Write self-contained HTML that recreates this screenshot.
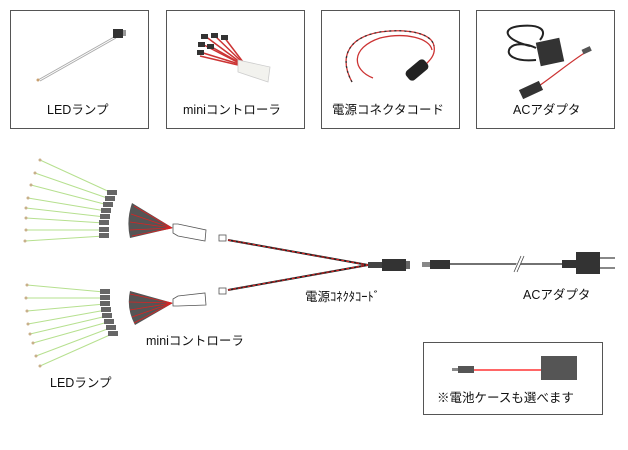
<!DOCTYPE html>
<html><head><meta charset="utf-8"><style>
body{margin:0;background:#fff;width:628px;height:450px;overflow:hidden}
svg{display:block}
text{font-family:"Liberation Sans","Noto Sans CJK JP",sans-serif;font-size:12.5px;fill:#111}
</style></head><body>
<svg width="628" height="450" viewBox="0 0 628 450">
<g fill="none" stroke="#555" stroke-width="1">
<rect x="10.5" y="10.5" width="138" height="118"/>
<rect x="166.5" y="10.5" width="138" height="118"/>
<rect x="321.5" y="10.5" width="138" height="118"/>
<rect x="476.5" y="10.5" width="138" height="118"/>
<rect x="423.5" y="342.5" width="179" height="72"/>
</g>
<text x="47" y="114">LEDランプ</text>
<text x="183" y="114">miniコントローラ</text>
<text x="332" y="114">電源コネクタコード</text>
<text x="513" y="114">ACアダプタ</text>
<!-- LED thumb -->
<g stroke="#aaa" stroke-width="1"><line x1="38" y1="80" x2="114" y2="37"/><line x1="40" y1="81" x2="116" y2="38"/></g>
<circle cx="38" cy="80" r="1.5" fill="#c8a070"/>
<rect x="113" y="29" width="10" height="9" fill="#333"/>
<rect x="123" y="30" width="3" height="6" fill="#999"/>
<!-- mini controller thumb -->
<g stroke="#c33" stroke-width="1.5">
<line x1="205" y1="36" x2="240" y2="62"/><line x1="214" y1="35" x2="242" y2="62"/><line x1="224" y1="37" x2="243" y2="62"/><line x1="202" y1="44" x2="239" y2="63"/><line x1="200" y1="52" x2="239" y2="64"/><line x1="210" y1="46" x2="240" y2="63"/><line x1="200" y1="56" x2="238" y2="65"/></g>
<g fill="#333"><rect x="201" y="34" width="7" height="5"/><rect x="211" y="33" width="7" height="5"/><rect x="221" y="35" width="7" height="5"/><rect x="198" y="42" width="7" height="5"/><rect x="197" y="50" width="7" height="5"/><rect x="207" y="44" width="7" height="5"/></g>
<path d="M238 60 L270 67 L268 82 L238 72 Z" fill="#f2f2ee" stroke="#ccc" stroke-width="0.8"/>
<!-- cord thumb -->
<g fill="none" stroke-width="1.3">
<path d="M352 82 C340 60 345 38 380 32 C410 28 432 34 434 46 C436 56 428 62 424 66" stroke="#c33"/>
<path d="M373 78 C352 70 350 48 380 38 C405 32 430 38 432 50" stroke="#c33"/>
<path d="M352 82 C340 60 345 38 380 32 C410 28 432 34 434 46" stroke="#333" stroke-dasharray="2 3"/>
</g>
<rect x="405" y="64" width="24" height="12" rx="4" fill="#222" transform="rotate(-40 417 70)"/>
<!-- AC thumb -->
<path d="M530 46 C505 40 500 28 520 26 C540 24 548 30 540 40 M536 60 C515 62 505 55 510 48 C515 42 528 44 536 48" stroke="#222" stroke-width="2" fill="none"/>
<rect x="538" y="40" width="24" height="24" fill="#333" transform="rotate(-12 550 52)"/>
<path d="M536 88 C555 75 570 62 586 52" stroke="#c33" stroke-width="1.2" fill="none"/>
<rect x="582" y="48" width="9" height="5" fill="#555" transform="rotate(-25 586 50)"/>
<rect x="520" y="85" width="22" height="10" fill="#333" transform="rotate(-25 531 90)"/>
<!-- LED wires -->
<g stroke="#b6e08f" stroke-width="1">
<line x1="40" y1="160" x2="112" y2="193"/><line x1="35" y1="173" x2="110" y2="199"/><line x1="31" y1="185" x2="108" y2="205"/><line x1="28" y1="198" x2="106" y2="211"/><line x1="26" y1="208" x2="105" y2="217"/><line x1="26" y1="218" x2="104" y2="223"/><line x1="26" y1="230" x2="104" y2="230"/><line x1="25" y1="241" x2="104" y2="236"/>
<line x1="27" y1="285" x2="104" y2="292"/><line x1="26" y1="298" x2="104" y2="298"/><line x1="27" y1="311" x2="105" y2="304"/><line x1="28" y1="324" x2="106" y2="310"/><line x1="30" y1="334" x2="107" y2="316"/><line x1="33" y1="343" x2="108" y2="322"/><line x1="36" y1="356" x2="110" y2="328"/><line x1="40" y1="366" x2="112" y2="334"/>
</g>
<g fill="#c8b08a">
<circle cx="40" cy="160" r="1.5"/><circle cx="35" cy="173" r="1.5"/><circle cx="31" cy="185" r="1.5"/><circle cx="28" cy="198" r="1.5"/><circle cx="26" cy="208" r="1.5"/><circle cx="26" cy="218" r="1.5"/><circle cx="26" cy="230" r="1.5"/><circle cx="25" cy="241" r="1.5"/>
<circle cx="27" cy="285" r="1.5"/><circle cx="26" cy="298" r="1.5"/><circle cx="27" cy="311" r="1.5"/><circle cx="28" cy="324" r="1.5"/><circle cx="30" cy="334" r="1.5"/><circle cx="33" cy="343" r="1.5"/><circle cx="36" cy="356" r="1.5"/><circle cx="40" cy="366" r="1.5"/>
</g>
<g fill="#666">
<rect x="107" y="190" width="10" height="5"/><rect x="105" y="196" width="10" height="5"/><rect x="103" y="202" width="10" height="5"/><rect x="101" y="208" width="10" height="5"/><rect x="100" y="214" width="10" height="5"/><rect x="99" y="220" width="10" height="5"/><rect x="99" y="227" width="10" height="5"/><rect x="99" y="233" width="10" height="5"/>
<rect x="100" y="289" width="10" height="5"/><rect x="100" y="295" width="10" height="5"/><rect x="100" y="301" width="10" height="5"/><rect x="101" y="307" width="10" height="5"/><rect x="102" y="313" width="10" height="5"/><rect x="104" y="319" width="10" height="5"/><rect x="106" y="325" width="10" height="5"/><rect x="108" y="331" width="10" height="5"/>
</g>
<!-- controller fans -->
<path d="M132 203 Q126 220 130 238 L173 228 Z" fill="#555"/>
<g stroke="#d22" stroke-width="0.8"><line x1="134" y1="206" x2="172" y2="228"/><line x1="131" y1="214" x2="172" y2="228"/><line x1="130" y1="222" x2="172" y2="228"/><line x1="130" y1="230" x2="172" y2="228"/><line x1="132" y1="236" x2="172" y2="228"/></g>
<path d="M130 291 Q126 308 135 325 L173 303 Z" fill="#555"/>
<g stroke="#d22" stroke-width="0.8"><line x1="130" y1="294" x2="172" y2="303"/><line x1="129" y1="302" x2="172" y2="303"/><line x1="130" y1="310" x2="172" y2="303"/><line x1="132" y1="317" x2="172" y2="303"/><line x1="134" y1="323" x2="172" y2="303"/></g>
<g fill="#fff" stroke="#555" stroke-width="0.8">
<path d="M173 224 L178 224 L206 230 L205 241 L178 236 L173 233 Z"/>
<path d="M173 299 L178 296 L205 293 L206 305 L178 306 L173 306 Z"/>
<rect x="219" y="235" width="7" height="6"/><rect x="219" y="288" width="7" height="6"/>
</g>
<!-- cords -->
<g stroke="#222" stroke-width="2"><line x1="228" y1="240" x2="368" y2="265"/><line x1="228" y1="290" x2="368" y2="265"/></g>
<g stroke="#e22" stroke-width="1" stroke-dasharray="3 2"><line x1="228" y1="240" x2="368" y2="265"/><line x1="228" y1="290" x2="368" y2="265"/></g>
<rect x="368" y="262" width="14" height="6" fill="#444"/>
<rect x="382" y="259" width="24" height="12" fill="#333"/>
<rect x="406" y="261" width="4" height="8" fill="#666"/>
<rect x="422" y="262" width="8" height="5" fill="#888"/>
<rect x="430" y="260" width="20" height="9" fill="#333"/>
<line x1="450" y1="264" x2="562" y2="264" stroke="#444" stroke-width="1.5"/>
<line x1="515" y1="272" x2="522" y2="256" stroke="#fff" stroke-width="4"/>
<g stroke="#444" stroke-width="0.8"><line x1="514" y1="272" x2="521" y2="256"/><line x1="517" y1="272" x2="524" y2="256"/></g>
<rect x="562" y="260" width="14" height="8" fill="#333"/>
<rect x="576" y="252" width="24" height="22" fill="#333"/>
<g stroke="#888" stroke-width="2"><line x1="600" y1="258" x2="615" y2="258"/><line x1="600" y1="268" x2="615" y2="268"/></g>
<text x="305" y="301">電源ｺﾈｸﾀｺｰﾄﾞ</text>
<text x="523" y="299">ACアダプタ</text>
<text x="146" y="345">miniコントローラ</text>
<text x="50" y="387">LEDランプ</text>
<!-- battery -->
<rect x="452" y="368" width="6" height="3" fill="#888"/>
<rect x="458" y="366" width="16" height="7" fill="#555"/>
<line x1="474" y1="370" x2="541" y2="370" stroke="#f33" stroke-width="1.5"/>
<rect x="541" y="356" width="36" height="24" fill="#555"/>
<text x="437" y="402">※電池ケースも選べます</text>
</svg>
</body></html>
